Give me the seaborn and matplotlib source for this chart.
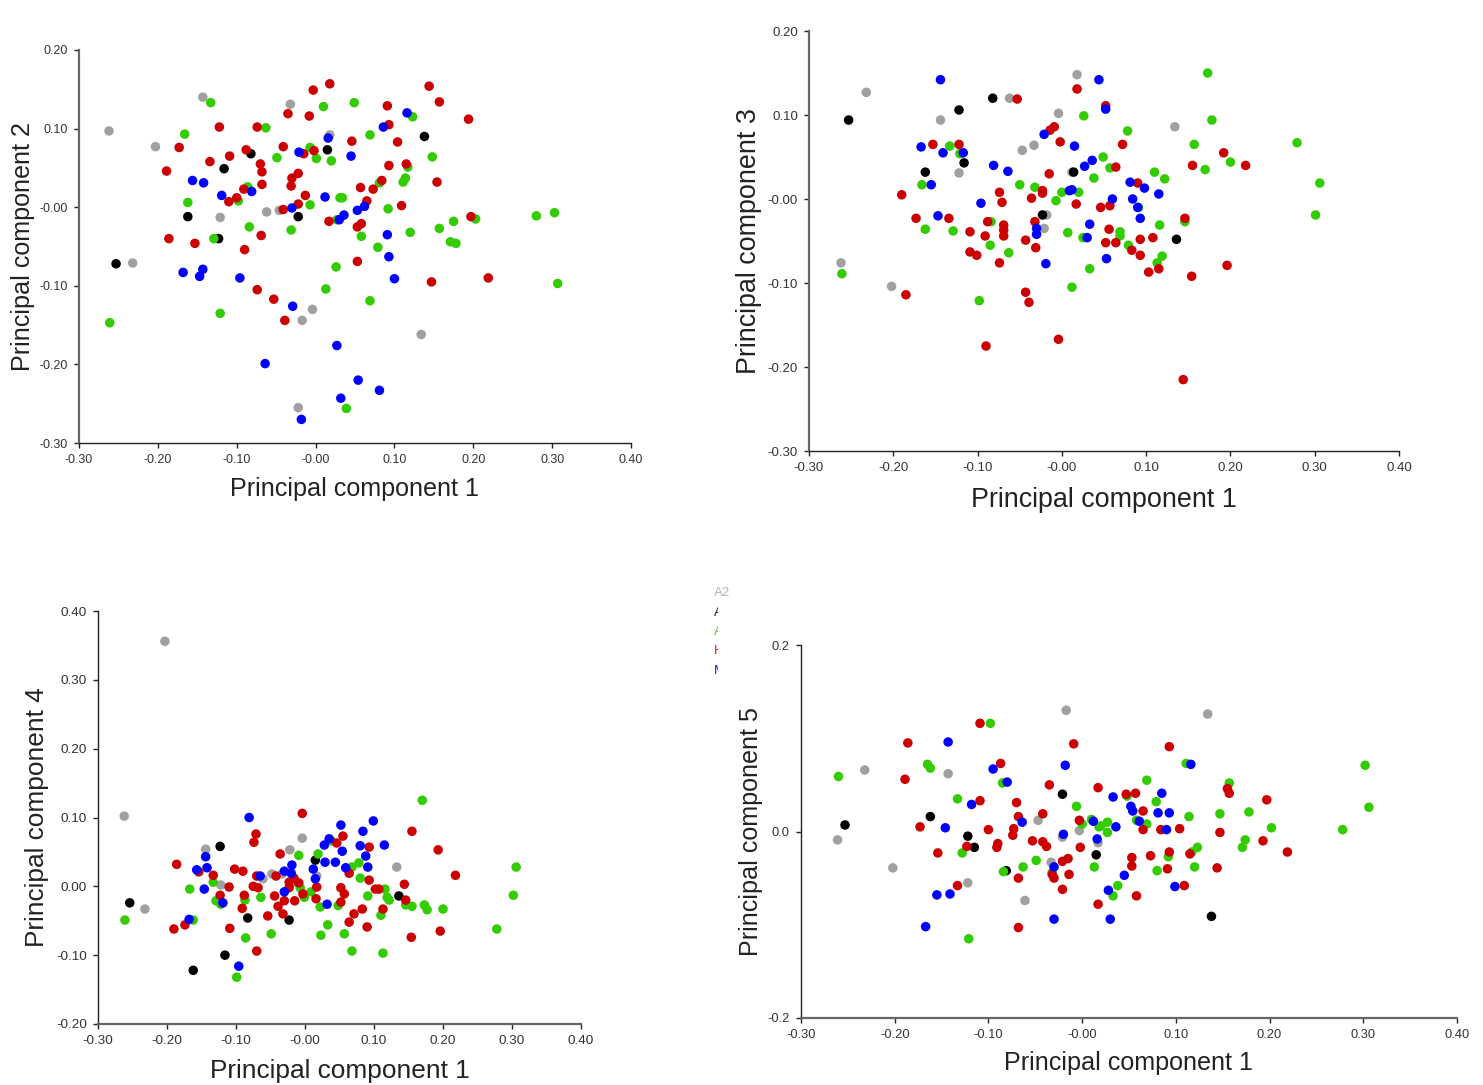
import matplotlib
matplotlib.use("Agg")
import matplotlib.pyplot as plt
from matplotlib.transforms import Bbox
import pandas as pd
import seaborn as sns

# PC1 vs PC2, (pc1, pc2) per group
grey_2 = [(-0.262, 0.097), (-0.203, 0.077), (-0.143, 0.140), (-0.032, 0.131), (-0.062, -0.006), (-0.046, -0.004),
          (-0.121, -0.013), (0.018, 0.092), (-0.232, -0.071), (-0.004, -0.130), (-0.017, -0.144), (0.134, -0.162),
          (-0.022, -0.255)]
black_2 = [(-0.253, -0.072), (-0.162, -0.012), (-0.123, -0.040), (-0.116, 0.049), (-0.082, 0.068), (-0.022, -0.012),
           (0.015, 0.073), (0.138, 0.090)]
green_2 = [(-0.133, 0.133), (-0.166, 0.093), (-0.063, 0.101), (0.010, 0.128), (-0.049, 0.063), (-0.007, 0.076),
           (0.001, 0.062), (0.020, 0.059), (-0.086, 0.026), (-0.098, 0.008), (-0.162, 0.006), (-0.007, 0.003),
           (0.031, 0.012), (-0.084, -0.025), (-0.031, -0.029), (-0.129, -0.040), (0.027, -0.016), (0.026, -0.076),
           (0.049, 0.133), (0.123, 0.115), (0.069, 0.092), (0.148, 0.064), (0.117, 0.051), (0.081, 0.031),
           (0.114, 0.037), (0.111, 0.032), (0.034, 0.012), (0.092, -0.002), (0.203, -0.015), (0.175, -0.018),
           (0.157, -0.027), (0.120, -0.032), (0.058, -0.037), (0.079, -0.051), (0.171, -0.044), (0.178, -0.046),
           (0.280, -0.011), (0.303, -0.007), (0.307, -0.097), (0.013, -0.104), (0.069, -0.119), (-0.121, -0.135),
           (-0.261, -0.147), (0.039, -0.256)]
red_2 = [(0.018, 0.157), (-0.003, 0.149), (-0.035, 0.119), (-0.008, 0.116), (-0.074, 0.102), (-0.122, 0.102),
         (-0.041, 0.077), (-0.088, 0.073), (-0.002, 0.072), (-0.015, 0.068), (-0.173, 0.076), (-0.109, 0.065),
         (-0.134, 0.058), (-0.070, 0.055), (-0.189, 0.046), (-0.068, 0.045), (-0.022, 0.043), (-0.030, 0.037),
         (-0.031, 0.027), (-0.068, 0.029), (-0.091, 0.023), (-0.013, 0.015), (-0.100, 0.012), (-0.110, 0.007),
         (-0.022, 0.004), (-0.041, -0.003), (0.017, -0.018), (-0.069, -0.036), (-0.186, -0.040), (-0.153, -0.046),
         (-0.090, -0.054), (0.144, 0.154), (0.157, 0.134), (0.091, 0.129), (0.194, 0.112), (0.093, 0.105),
         (0.046, 0.084), (0.104, 0.083), (0.093, 0.053), (0.115, 0.055), (0.154, 0.032), (0.084, 0.034),
         (0.073, 0.023), (0.057, 0.025), (0.065, 0.008), (0.109, 0.002), (0.197, -0.012), (0.058, -0.021),
         (0.053, -0.025), (0.053, -0.069), (0.147, -0.095), (0.219, -0.090), (-0.074, -0.105), (-0.053, -0.117),
         (-0.039, -0.144)]
blue_2 = [(-0.156, 0.034), (-0.142, 0.031), (-0.119, 0.015), (-0.081, 0.020), (-0.030, -0.001), (-0.021, 0.070),
          (0.012, 0.013), (0.016, 0.088), (0.030, -0.016), (0.045, 0.065), (0.086, 0.102), (0.116, 0.120),
          (0.036, -0.010), (0.053, -0.004), (0.062, 0.001), (0.091, -0.035), (0.093, -0.063), (0.100, -0.091),
          (-0.168, -0.083), (-0.143, -0.079), (-0.147, -0.088), (-0.096, -0.090), (-0.029, -0.126), (-0.064, -0.199),
          (0.027, -0.176), (0.054, -0.220), (0.032, -0.243), (0.081, -0.233), (-0.018, -0.270)]

# PC1 vs PC3
grey_3 = [(-0.232, 0.127), (-0.062, 0.120), (-0.144, 0.094), (-0.004, 0.102), (-0.033, 0.064), (-0.047, 0.058),
          (-0.122, 0.031), (-0.018, -0.019), (-0.021, -0.035), (0.012, 0.032), (0.018, 0.148), (0.134, 0.086),
          (-0.262, -0.076), (-0.202, -0.104)]
black_3 = [(-0.253, 0.094), (-0.082, 0.120), (-0.122, 0.106), (-0.116, 0.043), (-0.162, 0.032), (-0.023, -0.019),
           (0.014, 0.032), (0.136, -0.048)]
green_3 = [(-0.133, 0.063), (-0.121, 0.054), (-0.166, 0.017), (-0.050, 0.017), (-0.032, 0.014), (0.000, 0.008),
           (-0.007, -0.002), (-0.084, -0.027), (-0.162, -0.036), (-0.129, -0.038), (0.007, -0.040), (0.173, 0.150),
           (0.026, 0.099), (0.178, 0.094), (0.078, 0.081), (0.157, 0.065), (0.049, 0.050), (0.057, 0.037),
           (0.279, 0.067), (0.200, 0.044), (0.170, 0.035), (0.110, 0.032), (0.122, 0.024), (0.038, 0.025),
           (0.020, 0.008), (0.306, 0.019), (0.091, -0.010), (0.301, -0.019), (0.146, -0.027), (0.116, -0.031),
           (0.069, -0.039), (0.069, -0.044), (0.025, -0.046), (-0.085, -0.055), (-0.063, -0.064), (0.079, -0.055),
           (0.119, -0.068), (0.113, -0.076), (0.033, -0.083), (0.012, -0.105), (-0.098, -0.121), (-0.261, -0.089)]
red_3 = [(-0.053, 0.119), (-0.153, 0.065), (-0.122, 0.065), (-0.190, 0.005), (-0.009, 0.086), (-0.014, 0.082),
         (-0.002, 0.068), (-0.015, 0.030), (-0.074, 0.008), (-0.023, 0.010), (-0.023, 0.007), (-0.036, 0.001),
         (-0.071, -0.004), (-0.173, -0.023), (-0.134, -0.023), (-0.088, -0.027), (-0.032, -0.027), (-0.069, -0.031),
         (-0.069, -0.037), (-0.069, -0.044), (-0.109, -0.039), (-0.091, -0.044), (-0.043, -0.049), (0.018, 0.131),
         (0.052, 0.111), (0.072, 0.065), (0.064, 0.038), (0.192, 0.055), (0.155, 0.040), (0.218, 0.040),
         (0.090, 0.019), (0.017, -0.006), (0.046, -0.010), (0.057, -0.008), (0.056, -0.036), (0.093, -0.048),
         (0.108, -0.046), (0.146, -0.023), (0.052, -0.052), (0.064, -0.052), (-0.109, -0.063), (-0.101, -0.067),
         (-0.031, -0.058), (-0.074, -0.076), (0.083, -0.061), (0.093, -0.067), (0.103, -0.087), (0.115, -0.083),
         (0.154, -0.092), (0.196, -0.079), (-0.043, -0.111), (-0.039, -0.123), (-0.185, -0.114), (-0.090, -0.175),
         (-0.004, -0.167), (0.144, -0.215)]
blue_3 = [(-0.144, 0.142), (-0.167, 0.062), (-0.141, 0.055), (-0.117, 0.055), (-0.155, 0.017), (-0.081, 0.040),
          (-0.064, 0.033), (-0.096, -0.005), (-0.147, -0.020), (-0.021, 0.077), (-0.030, -0.035), (-0.030, -0.042),
          (0.009, 0.010), (0.044, 0.142), (0.052, 0.107), (0.015, 0.063), (0.036, 0.046), (0.027, 0.039),
          (0.012, 0.011), (0.081, 0.020), (0.098, 0.013), (0.115, 0.006), (0.060, 0.000), (0.084, 0.000),
          (0.090, -0.010), (0.093, -0.023), (0.033, -0.030), (0.030, -0.046), (0.053, -0.071), (-0.019, -0.077)]

# PC1 vs PC4
grey_4 = [(-0.262, 0.102), (-0.232, -0.033), (-0.144, 0.054), (-0.122, 0.002), (-0.004, 0.070), (-0.022, 0.053),
          (-0.048, 0.018), (-0.061, 0.011), (-0.019, 0.005), (-0.033, 0.018), (-0.203, 0.356), (0.133, 0.028),
          (0.017, 0.015)]
black_4 = [(-0.123, 0.058), (-0.254, -0.024), (-0.083, -0.046), (-0.023, -0.049), (-0.116, -0.100), (-0.162, -0.122),
           (0.015, 0.038), (0.136, -0.014)]
green_4 = [(-0.261, -0.049), (-0.167, -0.004), (-0.133, 0.006), (-0.129, -0.021), (-0.122, -0.026), (-0.162, -0.049),
           (-0.087, -0.020), (-0.064, -0.016), (-0.009, 0.045), (0.019, 0.047), (-0.007, -0.002), (0.009, -0.008),
           (-0.001, -0.016), (-0.049, -0.069), (-0.086, -0.075), (-0.099, -0.132), (0.022, -0.030), (0.023, -0.071),
           (0.170, 0.125), (0.038, 0.066), (0.078, 0.034), (0.068, 0.028), (0.080, 0.012), (0.306, 0.028),
           (0.302, -0.013), (0.116, -0.004), (0.091, -0.014), (0.119, -0.016), (0.122, -0.020), (0.146, -0.027),
           (0.155, -0.029), (0.173, -0.027), (0.177, -0.034), (0.200, -0.033), (0.048, -0.028), (0.110, -0.042),
           (0.033, -0.056), (0.057, -0.069), (0.278, -0.062), (0.068, -0.094), (0.113, -0.097)]
red_4 = [(-0.004, 0.106), (-0.071, 0.076), (-0.074, 0.064), (-0.186, 0.032), (-0.036, 0.047), (-0.102, 0.025),
         (-0.090, 0.022), (-0.154, 0.021), (-0.133, 0.016), (-0.070, 0.015), (-0.042, 0.015), (-0.110, -0.001),
         (-0.075, 0.000), (-0.068, -0.002), (-0.016, 0.012), (-0.023, 0.006), (-0.009, 0.005), (-0.023, -0.002),
         (-0.123, -0.013), (-0.088, -0.013), (-0.044, -0.014), (-0.003, -0.011), (0.017, -0.001), (0.016, -0.018),
         (-0.015, -0.021), (-0.030, -0.021), (-0.039, -0.029), (-0.091, -0.032), (-0.054, -0.043), (-0.032, -0.040),
         (-0.109, -0.061), (-0.174, -0.056), (-0.190, -0.062), (-0.070, -0.094), (0.055, 0.073), (0.046, 0.063),
         (0.093, 0.057), (0.155, 0.080), (0.193, 0.053), (0.218, 0.016), (0.064, 0.019), (0.093, 0.009),
         (0.144, 0.003), (0.052, -0.002), (0.057, -0.011), (0.102, -0.004), (0.107, -0.004), (0.052, -0.023),
         (0.146, -0.020), (0.113, -0.033), (0.083, -0.033), (0.071, -0.040), (0.064, -0.052), (0.090, -0.059),
         (0.196, -0.065), (0.154, -0.074)]
blue_4 = [(-0.081, 0.100), (-0.144, 0.043), (-0.142, 0.027), (-0.157, 0.024), (-0.146, -0.004), (-0.119, -0.024),
          (-0.168, -0.048), (-0.065, 0.015), (-0.030, 0.022), (-0.019, 0.031), (-0.020, 0.019), (-0.030, -0.008),
          (0.012, 0.025), (0.015, 0.011), (-0.096, -0.116), (0.052, 0.089), (0.099, 0.095), (0.084, 0.080),
          (0.035, 0.069), (0.028, 0.060), (0.080, 0.059), (0.115, 0.060), (0.054, 0.051), (0.088, 0.044),
          (0.029, 0.035), (0.044, 0.035), (0.091, 0.028), (0.059, 0.027), (0.032, -0.026)]

# PC1 vs PC5
grey_5 = [(-0.017, 0.130), (-0.232, 0.066), (-0.143, 0.062), (-0.261, -0.009), (-0.202, -0.039), (-0.122, -0.055),
          (-0.061, -0.074), (-0.047, 0.012), (-0.003, 0.001), (-0.021, -0.006), (-0.033, -0.033), (0.017, -0.012),
          (0.134, 0.126)]
black_5 = [(-0.253, 0.007), (-0.162, 0.016), (-0.021, 0.040), (-0.122, -0.005), (-0.115, -0.017), (-0.081, -0.042),
           (0.015, -0.025), (0.138, -0.091)]
green_5 = [(-0.098, 0.116), (-0.165, 0.072), (-0.162, 0.068), (-0.260, 0.059), (-0.085, 0.052), (-0.133, 0.035),
           (-0.006, 0.027), (0.010, 0.013), (0.000, 0.008), (0.018, 0.005), (-0.128, -0.023), (-0.049, -0.031),
           (-0.063, -0.038), (-0.032, -0.044), (0.013, -0.038), (-0.084, -0.043), (-0.121, -0.115), (0.302, 0.071),
           (0.111, 0.073), (0.069, 0.055), (0.157, 0.052), (0.048, 0.038), (0.079, 0.032), (0.178, 0.021),
           (0.147, 0.019), (0.306, 0.026), (0.114, 0.016), (0.027, 0.010), (0.020, 0.006), (0.027, -0.001),
           (0.058, 0.012), (0.069, 0.008), (0.202, 0.004), (0.278, 0.002), (0.174, -0.009), (0.171, -0.017),
           (0.123, -0.017), (0.117, -0.022), (0.092, -0.027), (0.120, -0.038), (0.080, -0.042), (0.038, -0.058),
           (0.033, -0.069)]
red_5 = [(-0.109, 0.116), (-0.186, 0.095), (-0.009, 0.094), (-0.087, 0.073), (-0.189, 0.056), (-0.035, 0.050),
         (0.017, 0.047), (-0.109, 0.033), (-0.070, 0.031), (-0.042, 0.019), (-0.068, 0.016), (-0.173, 0.005),
         (-0.100, 0.002), (-0.073, 0.003), (-0.074, -0.004), (-0.003, 0.012), (-0.053, -0.010), (-0.042, -0.011),
         (-0.038, -0.016), (-0.002, -0.017), (-0.123, -0.016), (-0.090, -0.013), (-0.091, -0.017), (-0.154, -0.023),
         (-0.021, -0.032), (-0.015, -0.029), (-0.014, -0.046), (-0.032, -0.046), (-0.030, -0.050), (-0.068, -0.050),
         (-0.133, -0.058), (-0.021, -0.062), (0.017, -0.078), (-0.068, -0.103), (0.093, 0.091), (0.047, 0.040),
         (0.057, 0.041), (0.155, 0.046), (0.157, 0.041), (0.197, 0.034), (0.065, 0.022), (0.104, 0.003),
         (0.084, 0.002), (0.065, 0.002), (0.147, -0.001), (0.193, -0.010), (0.219, -0.022), (0.093, -0.022),
         (0.115, -0.024), (0.073, -0.026), (0.053, -0.028), (0.053, -0.037), (0.091, -0.040), (0.144, -0.039),
         (0.109, -0.058), (0.058, -0.069)]
blue_5 = [(-0.143, 0.096), (-0.095, 0.067), (-0.080, 0.053), (-0.018, 0.071), (-0.118, 0.029), (-0.146, 0.004),
          (-0.064, 0.010), (-0.020, -0.003), (0.012, 0.011), (0.016, -0.008), (-0.030, -0.038), (-0.155, -0.068),
          (-0.141, -0.067), (-0.030, -0.094), (-0.167, -0.102), (0.116, 0.072), (0.033, 0.037), (0.085, 0.041),
          (0.052, 0.027), (0.054, 0.022), (0.081, 0.020), (0.093, 0.020), (0.061, 0.011), (0.036, 0.005),
          (0.090, 0.002), (0.045, -0.047), (0.028, -0.063), (0.099, -0.059), (0.030, -0.094)]

x_ticks = [-0.30, -0.20, -0.10, 0.00, 0.10, 0.20, 0.30, 0.40]
x_labels = ["-0.30", "-0.20", "-0.10", "-0.00", "0.10", "0.20", "0.30", "0.40"]
y_ticks_a = [-0.30, -0.20, -0.10, 0.00, 0.10, 0.20]
y_labels_a = ["-0.30", "-0.20", "-0.10", "-0.00", "0.10", "0.20"]
y_ticks_b = [-0.20, -0.10, 0.00, 0.10, 0.20, 0.30, 0.40]
y_labels_b = ["-0.20", "-0.10", "0.00", "0.10", "0.20", "0.30", "0.40"]
y_ticks_c = [-0.2, 0.0, 0.2]
y_labels_c = ["-0.2", "0.0", "0.2"]
legend_names = ["A2", "A", "A", "H", "M"]
legend_colors = ["#b4b4b4", "#222222", "#55cc33", "#cc2222", "#2222ee"]

colors = {"grey": "#a0a0a0", "black": "#000000", "green": "#33cc00", "red": "#cc0000", "blue": "#0000ff"}

W, H = 1483, 1085
THICK = ("#666666", 1.6)
THIN = ("#222222", 1.0)

sns.set_style("white")
plt.rcParams["font.family"] = ["Liberation Sans", "DejaVu Sans"]

fig = plt.figure(figsize=(W / 100, H / 100), dpi=100)


def panel(box, groups, ylabel, yticks, ylabels, labelsize, ticksize, xlab_y, ylab_x, left_line, bottom_line):
    left, top, right, bottom = box
    ax = fig.add_axes([left / W, 1 - bottom / H, (right - left) / W, (bottom - top) / H])
    frames = []
    for name, pts in groups.items():
        d = pd.DataFrame(pts, columns=["pc1", "pc"])
        d["group"] = name
        frames.append(d)
    df = pd.concat(frames, ignore_index=True)
    sns.scatterplot(data=df, x="pc1", y="pc", hue="group", palette=colors, s=47, linewidth=0,
                    legend=False, ax=ax, clip_on=False)
    ax.set_xlim(-0.30, 0.40)
    ax.set_ylim(yticks[0], yticks[-1])
    ax.set_xticks(x_ticks, x_labels)
    ax.set_yticks(yticks, ylabels)
    sns.despine(ax=ax)
    ax.spines["left"].set_color(left_line[0])
    ax.spines["left"].set_linewidth(left_line[1])
    ax.spines["bottom"].set_color(bottom_line[0])
    ax.spines["bottom"].set_linewidth(bottom_line[1])
    ax.tick_params(length=3.5, width=1, color="#222222", labelcolor="#333333", labelsize=ticksize, pad=4.5,
                   left=True, bottom=True)
    ax.set_xlabel("Principal component 1", fontsize=labelsize, color="#222222")
    ax.set_ylabel(ylabel, fontsize=labelsize, color="#222222")
    ax.xaxis.set_label_coords(0.5, -(xlab_y - bottom) / (bottom - top))
    ax.yaxis.set_label_coords((ylab_x - left) / (right - left), 0.5)
    return ax


panel((79, 50, 631, 443), {"grey": grey_2, "black": black_2, "green": green_2, "red": red_2, "blue": blue_2},
      "Principal component 2", y_ticks_a, y_labels_a, 18.1, 9.0, 477, 35, THICK, THIN)
panel((809, 31, 1399, 451), {"grey": grey_3, "black": black_3, "green": green_3, "red": red_3, "blue": blue_3},
      "Principal component 3", y_ticks_a, y_labels_a, 19.4, 9.5, 487, 762, THICK, THIN)
panel((98, 611, 581, 1024), {"grey": grey_4, "black": black_4, "green": green_4, "red": red_4, "blue": blue_4},
      "Principal component 4", y_ticks_b, y_labels_b, 18.9, 9.7, 1059, 49, THIN, THICK)
panel((801, 645, 1457, 1018), {"grey": grey_5, "black": black_5, "green": green_5, "red": red_5, "blue": blue_5},
      "Principal component 5", y_ticks_c, y_labels_c, 18.1, 9.3, 1051, 763, THIN, THICK)

# cut off legend at the left edge of the lower right plot
clip = Bbox([[700, 0], [729, H]])
clip_names = Bbox([[700, 0], [718, H]])
for i, name in enumerate(legend_names):
    t = fig.text(714 / W, 1 - (593 + i * 19.5) / H, name, color=legend_colors[i], fontsize=9.5, va="center")
    t.set_clip_box(clip if i == 0 else clip_names)
    t.set_clip_on(True)

fig.savefig("out.png", dpi=100)
